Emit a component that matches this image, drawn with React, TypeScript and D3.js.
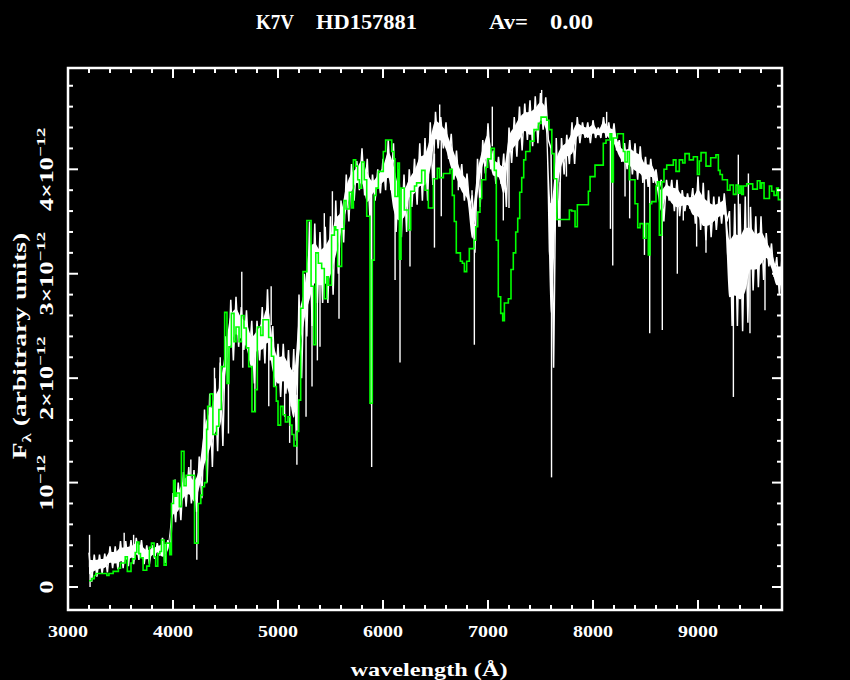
import React, { useEffect } from 'react';
import * as d3 from 'd3';

// flux values are in units of 1e-12 (arbitrary)
const wave = [
  3200, 3250, 3300, 3350, 3400, 3450, 3500, 3550, 3600, 3650, 3700, 3750, 3800, 3850, 3900, 3950,
  4000, 4050, 4100, 4150, 4200, 4250, 4300, 4350, 4400, 4450, 4500, 4550, 4600, 4650, 4700, 4750,
  4800, 4850, 4900, 4950, 5000, 5050, 5100, 5150, 5200, 5250, 5300, 5350, 5400, 5450, 5500, 5550,
  5600, 5650, 5700, 5750, 5800, 5850, 5900, 5950, 6000, 6050, 6100, 6150, 6200, 6250, 6300, 6350,
  6400, 6450, 6500, 6550, 6600, 6650, 6700, 6750, 6800, 6850, 6900, 6950, 7000, 7050, 7100, 7150,
  7200, 7250, 7300, 7350, 7400, 7450, 7500, 7550, 7600, 7650, 7700, 7750, 7800, 7850, 7900, 7950,
  8000, 8050, 8100, 8150, 8200, 8250, 8300, 8350, 8400, 8450, 8500, 8550, 8600, 8650, 8700, 8750,
  8800, 8850, 8900, 8950, 9000, 9050, 9100, 9150, 9200, 9250, 9300, 9350, 9400, 9450, 9500, 9550,
  9600, 9650, 9700, 9750,
];
const whiteHi = [
  0.33, 0.31, 0.31, 0.32, 0.39, 0.39, 0.44, 0.44, 0.45, 0.47, 0.45, 0.40, 0.40, 0.42, 0.47, 0.45,
  0.90, 1.00, 1.10, 1.15, 1.12, 1.25, 1.70, 1.85, 2.00, 2.15, 2.40, 2.75, 2.78, 2.68, 2.65, 2.55,
  2.55, 2.68, 2.85, 2.50, 2.33, 2.33, 2.27, 2.28, 2.80, 3.00, 3.50, 3.48, 3.40, 3.45, 3.55, 3.70,
  3.70, 3.95, 4.05, 4.08, 4.20, 4.10, 3.95, 4.00, 4.10, 4.28, 4.25, 4.00, 3.95, 4.00, 4.10, 4.25,
  4.30, 4.45, 4.55, 4.50, 4.45, 4.34, 4.18, 4.05, 3.96, 3.75, 4.10, 4.28, 4.44, 4.18, 4.12, 4.15,
  4.40, 4.50, 4.60, 4.63, 4.66, 4.70, 4.73, 4.69, 4.20, 4.30, 4.30, 4.33, 4.45, 4.50, 4.45, 4.45,
  4.47, 4.40, 4.50, 4.45, 4.44, 4.28, 4.25, 4.28, 4.25, 4.22, 4.12, 4.10, 4.00, 3.90, 3.90, 3.90,
  3.90, 3.80, 3.77, 3.82, 3.93, 3.87, 3.80, 3.74, 3.74, 3.77, 3.60, 3.67, 3.67, 3.74, 3.64, 3.55,
  3.55, 3.39, 3.29, 3.16,
];
const whiteLo = [
  0.05, 0.10, 0.13, 0.14, 0.18, 0.17, 0.18, 0.20, 0.22, 0.26, 0.22, 0.22, 0.27, 0.30, 0.23, 0.32,
  0.62, 0.64, 0.77, 0.80, 0.72, 0.85, 1.00, 1.15, 1.30, 1.35, 1.95, 2.17, 2.30, 2.27, 2.17, 1.95,
  2.17, 2.14, 2.17, 1.92, 1.82, 1.85, 1.73, 1.40, 2.00, 2.40, 2.50, 2.72, 2.72, 2.72, 2.80, 3.00,
  3.30, 3.50, 3.70, 3.80, 3.75, 3.55, 3.70, 3.77, 3.80, 3.80, 3.40, 3.35, 3.40, 3.64, 3.66, 3.70,
  3.70, 3.85, 4.20, 4.20, 4.10, 3.90, 3.83, 3.70, 3.64, 3.20, 3.64, 3.96, 4.00, 3.86, 3.86, 3.64,
  4.06, 4.12, 4.18, 4.28, 4.22, 4.25, 4.38, 4.28, 2.10, 3.45, 3.95, 4.05, 4.05, 4.25, 4.30, 4.25,
  4.30, 4.30, 4.30, 4.25, 4.18, 4.07, 4.00, 3.95, 3.90, 3.87, 3.83, 3.87, 3.80, 3.50, 3.70, 3.60,
  3.55, 3.60, 3.62, 3.48, 3.42, 3.32, 3.35, 3.42, 3.48, 3.50, 2.50, 2.50, 2.45, 2.53, 2.84, 2.87,
  2.94, 3.07, 2.97, 2.80,
];

// narrow features of the observed spectrum
const lineWave = [
  3205, 3210, 3535, 3625, 4020, 4170, 4227, 4395, 4450, 4528, 4655, 4665, 4780, 4912, 4935, 5063,
  5111, 5180, 5267, 5324, 5375, 5400, 5441, 5518, 5581, 5885, 5892, 6115, 6162, 6257, 6490, 6540,
  6555, 6717, 6848, 6870, 7041, 7146, 7200, 7511, 7605, 7686, 7747, 8130, 8166, 8188, 8305, 8349,
  8490, 8540, 8660, 8803, 8860, 8987, 9076, 9337, 9384, 9480, 9495, 9638,
];
const lineFlux = [
  0.50, 0.00, 0.52, 0.50, 1.03, 1.22, 0.26, 2.10, 2.20, 1.47, 3.02, 2.10, 1.68, 1.73, 2.88, 1.63,
  1.38, 1.17, 1.63, 1.92, 2.17, 2.30, 3.58, 3.79, 2.57, 1.75, 1.15, 2.94, 2.15, 3.07, 3.25, 4.62,
  3.55, 3.80, 3.51, 2.32, 4.60, 3.51, 3.63, 4.76, 1.05, 3.45, 3.93, 4.55, 3.43, 3.08, 3.74, 3.53,
  3.18, 2.43, 2.46, 3.00, 3.51, 3.26, 3.20, 1.82, 4.14, 3.96, 2.43, 2.65,
];

// model spectrum (green histogram)
const greenWave = [
  3200, 3225, 3250, 3265, 3370, 3390, 3430, 3480, 3500, 3545, 3565, 3600, 3615, 3640, 3655, 3675,
  3690, 3715, 3750, 3775, 3795, 3820, 3835, 3855, 3875, 3890, 3915, 3935, 3970, 3985, 4005, 4020,
  4035, 4060, 4080, 4105, 4125, 4205, 4240, 4265, 4280, 4300, 4320, 4330, 4355, 4380, 4415, 4437,
  4460, 4492, 4514, 4533, 4556, 4581, 4600, 4629, 4651, 4676, 4698, 4721, 4752, 4784, 4803, 4835,
  4857, 4911, 4937, 4959, 4984, 5000, 5025, 5048, 5070, 5095, 5117, 5133, 5152, 5181, 5197, 5216,
  5238, 5275, 5315, 5340, 5360, 5384, 5416, 5441, 5464, 5480, 5510, 5537, 5550, 5568, 5606, 5629,
  5648, 5679, 5702, 5718, 5740, 5759, 5775, 5797, 5822, 5845, 5876, 5898, 5917, 5933, 5956, 6003,
  6025, 6083, 6105, 6114, 6140, 6156, 6172, 6203, 6241, 6264, 6300, 6320, 6368, 6400, 6432, 6480,
  6517, 6537, 6575, 6638, 6660, 6679, 6698, 6737, 6756, 6775, 6797, 6822, 6867, 6883, 6902, 6924,
  6940, 6978, 6997, 7029, 7060, 7079, 7098, 7121, 7140, 7156, 7194, 7219, 7241, 7264, 7283, 7302,
  7321, 7340, 7359, 7400, 7438, 7480, 7505, 7559, 7581, 7608, 7630, 7655, 7775, 7797, 7829, 7851,
  7956, 7972, 8019, 8098, 8124, 8162, 8178, 8194, 8232, 8289, 8305, 8327, 8346, 8400, 8426, 8448,
  8480, 8505, 8527, 8543, 8559, 8600, 8613, 8632, 8654, 8676, 8702, 8765, 8790, 8822, 8854, 8876,
  8917, 8956, 8994, 9013, 9029, 9076, 9121, 9171, 9194, 9210, 9232, 9280, 9305, 9337, 9362, 9384,
  9400, 9416, 9432, 9464, 9521, 9565, 9591, 9606, 9629, 9680, 9702, 9724, 9749, 9765, 9800,
];
const greenFlux = [
  0.06, 0.08, 0.11, 0.13, 0.11, 0.13, 0.15, 0.18, 0.23, 0.29, 0.15, 0.23, 0.27, 0.33, 0.43, 0.32,
  0.28, 0.16, 0.20, 0.38, 0.42, 0.29, 0.20, 0.32, 0.34, 0.45, 0.21, 0.42, 0.31, 0.80, 1.02, 0.87,
  0.90, 0.77, 1.30, 0.97, 1.07, 0.42, 0.80, 0.88, 0.96, 1.00, 1.51, 1.73, 1.85, 1.46, 1.54, 1.70,
  2.11, 2.63, 1.95, 2.30, 2.62, 2.35, 2.49, 2.35, 2.60, 2.48, 2.29, 2.11, 1.68, 1.89, 2.49, 2.41,
  2.56, 2.39, 2.21, 1.92, 1.78, 1.55, 1.73, 1.65, 1.58, 1.63, 1.55, 1.46, 1.35, 1.49, 1.79, 2.67,
  3.02, 3.51, 2.88, 2.32, 3.20, 3.10, 3.05, 2.76, 2.97, 2.89, 3.37, 3.45, 3.42, 3.07, 3.43, 3.70,
  3.62, 3.78, 3.63, 4.09, 4.03, 3.90, 3.82, 4.07, 3.90, 3.55, 1.76, 3.13, 3.75, 3.82, 3.98, 4.17,
  4.28, 4.17, 4.10, 3.74, 4.06, 3.14, 3.82, 3.61, 3.42, 3.79, 3.84, 3.87, 3.99, 3.80, 3.63, 3.91,
  4.01, 3.92, 3.96, 4.00, 3.75, 3.50, 3.20, 3.12, 3.10, 3.02, 3.12, 3.24, 3.32, 3.45, 3.59, 3.72,
  3.90, 4.02, 4.10, 4.20, 3.99, 3.32, 2.78, 2.62, 2.55, 2.72, 2.76, 3.04, 3.20, 3.40, 3.53, 3.78,
  3.92, 4.09, 4.17, 4.27, 4.38, 4.44, 4.50, 4.47, 4.38, 4.15, 3.91, 3.52, 3.61, 3.60, 3.45, 3.66,
  3.79, 3.93, 4.04, 4.25, 4.28, 4.34, 3.88, 4.30, 4.34, 4.17, 4.07, 4.17, 3.90, 3.67, 3.44, 3.48,
  3.34, 3.48, 3.18, 3.67, 3.69, 3.84, 3.88, 3.37, 3.88, 4.00, 4.04, 4.09, 3.98, 4.09, 4.06, 4.15,
  4.09, 4.12, 3.95, 4.08, 4.16, 4.03, 4.11, 4.14, 3.99, 3.95, 3.90, 3.80, 3.85, 3.76, 3.85, 3.77,
  3.84, 3.76, 3.84, 3.86, 3.81, 3.89, 3.82, 3.87, 3.72, 3.84, 3.79, 3.75, 3.82, 3.71, 3.71,
];

const xMajor = [3000, 4000, 5000, 6000, 7000, 8000, 9000];
const yMajor = [0, 1, 2, 3, 4];
const yPrefix = ['0', '10', '2\u00d710', '3\u00d710', '4\u00d710'];
const binWidth = 50;

const W = 850;
const H = 680;
const FONT = '"Liberation Serif", "DejaVu Serif", serif';

const App: React.FC = () => {
  useEffect(() => {
    document.body.style.margin = '0';
    document.body.style.background = '#000';
  }, []);

  const x = d3.scaleLinear().domain([3000, 9800]).range([68, 782]);
  const y = d3.scaleLinear().domain([-0.22, 4.97]).range([610, 68]);

  // noisy observed spectrum: each bin swings from its upper to its lower envelope
  const zig: [number, number][] = [];
  wave.forEach((w, i) => {
    zig.push([w, whiteHi[i]]);
    zig.push([w + binWidth / 2, whiteLo[i]]);
  });
  zig.push([wave[wave.length - 1] + binWidth, whiteHi[whiteHi.length - 1]]);
  const zigPath = d3.line<[number, number]>()
    .x(d => x(d[0]))
    .y(d => y(d[1]))(zig) || '';

  const band = wave.map((w, i) => ({ w, hi: whiteHi[i], lo: whiteLo[i] }));
  const last = band[band.length - 1];
  band.push({ w: last.w + binWidth, hi: last.hi, lo: last.lo });
  // solid inner part of the band, drawn inside the two envelopes
  const corePath = d3.area<{ w: number; hi: number; lo: number }>()
    .x(d => x(d.w))
    .y0(d => y(d.lo + (d.hi - d.lo) * 0.25))
    .y1(d => y(d.hi - (d.hi - d.lo) * 0.25))
    .curve(d3.curveMonotoneX)(band) || '';

  const greenPath = d3.line<number>()
    .x((_, i) => x(greenWave[i]))
    .y(d => y(d))
    .curve(d3.curveStepAfter)(greenFlux) || '';

  const spikes = lineWave.map((w, i) => {
    const k = Math.max(0, d3.bisectRight(wave, w) - 1);
    const mid = (whiteHi[k] + whiteLo[k]) / 2;
    return { w, from: mid, to: lineFlux[i] };
  });

  const xMinor = d3.range(3000, 9801, 200).filter(v => v % 1000 !== 0);
  const yMinor = d3.range(0, 4.9, 0.2).filter(v => Math.abs(v - Math.round(v)) > 1e-6);

  const [x0, x1] = x.range();
  const [y0, y1] = y.range();
  const major = 10;
  const minor = 5;

  return (
    <svg width={W} height={H} style={{ position: 'absolute', left: 0, top: 0, display: 'block' }}
      fontFamily={FONT}>
      <rect x={0} y={0} width={W} height={H} fill="#000" />

      <g fill="#fff" fontSize={20} fontWeight="bold">
        <text x={256} y={29} textLength={38} lengthAdjust="spacingAndGlyphs">K7V</text>
        <text x={316} y={29} textLength={101} lengthAdjust="spacingAndGlyphs">HD157881</text>
        <text x={489} y={29} textLength={39} lengthAdjust="spacingAndGlyphs">Av=</text>
        <text x={550} y={29} textLength={43} lengthAdjust="spacingAndGlyphs">0.00</text>
      </g>

      <path d={corePath} fill="#fff" />
      <path d={zigPath} fill="none" stroke="#fff" strokeWidth={1.5} strokeLinejoin="miter" />
      <g stroke="#fff" strokeWidth={1.4}>
        {spikes.map((s, i) => (
          <line key={i} x1={x(s.w)} x2={x(s.w)} y1={y(s.from)} y2={y(s.to)} />
        ))}
      </g>
      <path d={greenPath} fill="none" stroke="#00ff00" strokeWidth={1.6} />

      <g stroke="#fff" strokeWidth={2}>
        {xMajor.map(t => (
          <g key={t}>
            <line x1={x(t)} x2={x(t)} y1={y0} y2={y0 - major} />
            <line x1={x(t)} x2={x(t)} y1={y1} y2={y1 + major} />
          </g>
        ))}
        {xMinor.map(t => (
          <g key={t}>
            <line x1={x(t)} x2={x(t)} y1={y0} y2={y0 - minor} />
            <line x1={x(t)} x2={x(t)} y1={y1} y2={y1 + minor} />
          </g>
        ))}
        {yMajor.map(t => (
          <g key={t}>
            <line x1={x0} x2={x0 + major} y1={y(t)} y2={y(t)} />
            <line x1={x1} x2={x1 - major} y1={y(t)} y2={y(t)} />
          </g>
        ))}
        {yMinor.map(t => (
          <g key={t}>
            <line x1={x0} x2={x0 + minor} y1={y(t)} y2={y(t)} />
            <line x1={x1} x2={x1 - minor} y1={y(t)} y2={y(t)} />
          </g>
        ))}
      </g>
      <rect x={x0} y={y1} width={x1 - x0} height={y0 - y1} fill="none" stroke="#fff" strokeWidth={2.5} />

      <g fill="#fff" fontSize={17} fontWeight="bold" textAnchor="middle">
        {xMajor.map(t => (
          <text key={t} x={x(t)} y={637} textLength={40} lengthAdjust="spacingAndGlyphs">{t}</text>
        ))}
      </g>
      <text x={429} y={676} fill="#fff" fontSize={19} fontWeight="bold" textAnchor="middle"
        textLength={157} lengthAdjust="spacingAndGlyphs">wavelength (Å)</text>

      <g fill="#fff" fontSize={18} fontWeight="bold">
        {yMajor.map((t, i) => (
          <text key={t} transform={`translate(53,${y(t)}) rotate(-90) scale(1.45,1)`} textAnchor="middle">
            {yPrefix[i]}
            {t > 0 && <tspan dy={-8} fontSize={13}>{'\u221212'}</tspan>}
          </text>
        ))}
      </g>
      <text transform={`translate(26,346) rotate(-90) scale(1.45,1)`} fill="#fff" fontSize={19}
        fontWeight="bold" textAnchor="middle">
        F<tspan dy={5} fontSize={13}>λ</tspan><tspan dy={-5}> (arbitrary units)</tspan>
      </text>
    </svg>
  );
};

export default App;
